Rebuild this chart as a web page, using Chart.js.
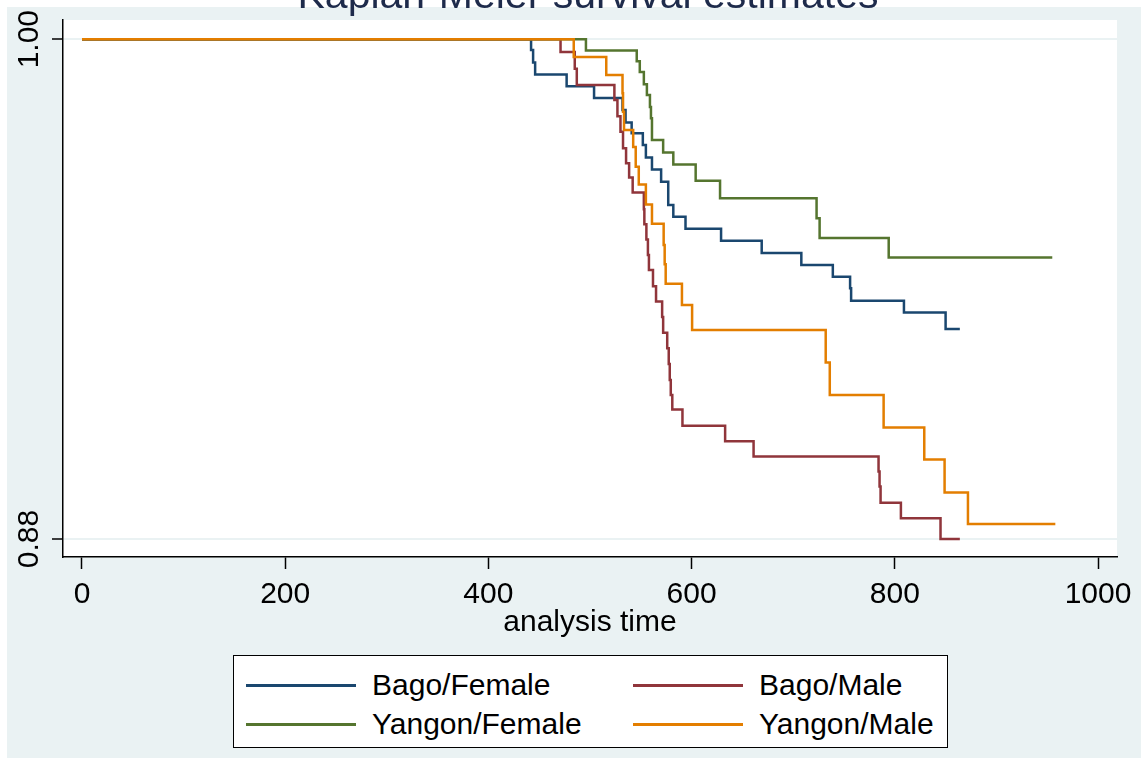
<!DOCTYPE html>
<html>
<head>
<meta charset="utf-8">
<script src="https://cdn.jsdelivr.net/npm/chart.js@4.4.0/dist/chart.umd.min.js"></script>
<style>
  html, body { margin: 0; padding: 0; background: #fff; }
  #wrap { position: relative; width: 1141px; height: 758px; overflow: hidden; }
  #km { position: absolute; left: 0; top: 0; }
  #legend {
    position: absolute; left: 233px; top: 655px; width: 713px; height: 91px;
    border: 1px solid #000; background: #fff;
    font-family: "Liberation Sans", Arial, sans-serif; font-size: 30px; color: #000;
  }
  .item { position: absolute; height: 34px; }
  .swatch { position: absolute; left: 0; top: 16px; width: 110px; height: 3px; }
  .label { position: absolute; left: 126px; top: 0; line-height: 34px; white-space: nowrap; }
</style>
</head>
<body>
<div id="wrap">
  <canvas id="km" width="1141" height="758"></canvas>
  <div id="legend"></div>
</div>
<script>
const FONT = '"Liberation Sans", Arial, sans-serif';
const titleText = 'Kaplan-Meier survival estimates';
const xTitle = 'analysis time';

const xTicks = [0, 200, 400, 600, 800, 1000];
const yTicks = [0.88, 1.00];
const yTickLabels = ['0.88', '1.00'];

// Bago/Female
const bagoF_t = [0, 442, 444, 446, 477, 504, 532, 535, 541, 552, 555, 561, 570, 577, 582, 594, 629, 669, 708, 739, 756, 757, 809, 850, 864];
const bagoF_s = [1, 0.9974, 0.9944, 0.9915, 0.9887, 0.9859, 0.9830, 0.9800, 0.9774, 0.9746, 0.9716, 0.9687, 0.9658, 0.9602, 0.9574, 0.9545, 0.9516, 0.9487, 0.9458, 0.9430, 0.9402, 0.9372, 0.9344, 0.9304, 0.9304];

// Bago/Male
const bagoM_t = [0, 471, 485, 487, 524, 527, 530, 532.5, 535.5, 538.5, 542, 553, 553.5, 555.5, 557, 558, 562, 565, 571, 572, 576, 577.5, 578.5, 579.5, 581, 591, 633, 661, 784, 785, 786, 806, 845, 864];
const bagoM_s = [1, 0.9969, 0.9929, 0.9890, 0.9854, 0.9815, 0.9778, 0.9738, 0.9702, 0.9668, 0.9632, 0.9592, 0.9556, 0.9519, 0.9482, 0.9446, 0.9407, 0.9370, 0.9333, 0.9295, 0.9258, 0.9220, 0.9182, 0.9146, 0.9111, 0.9072, 0.9035, 0.8998, 0.8962, 0.8926, 0.8887, 0.8850, 0.8800, 0.8800];

// Yangon/Female
const yangonF_t = [0, 496, 546, 549, 553, 556, 559, 560, 561, 572, 582, 604, 628, 723, 726, 794, 955];
const yangonF_s = [1, 0.9973, 0.9947, 0.9921, 0.9892, 0.9866, 0.9837, 0.9810, 0.9758, 0.9728, 0.9699, 0.9660, 0.9618, 0.9570, 0.9523, 0.9476, 0.9476];

// Yangon/Male
const yangonM_t = [0, 484, 516, 532, 532.5, 533.5, 542.5, 545, 548, 555, 561, 572.5, 573.5, 574.5, 590.5, 600.5, 732, 736, 789, 829, 849, 872, 958];
const yangonM_s = [1, 0.9957, 0.9914, 0.9870, 0.9826, 0.9782, 0.9741, 0.9694, 0.9651, 0.9603, 0.9557, 0.9506, 0.9460, 0.9413, 0.9362, 0.9302, 0.9224, 0.9146, 0.9068, 0.8991, 0.8912, 0.8836, 0.8836];

const pts = (t, s) => t.map((x, i) => ({ x: x, y: s[i] }));

const series = [
  { label: 'Bago/Female',   color: '#1a476f', data: pts(bagoF_t, bagoF_s),     order: 3 },
  { label: 'Bago/Male',     color: '#90353b', data: pts(bagoM_t, bagoM_s),     order: 2 },
  { label: 'Yangon/Female', color: '#55752f', data: pts(yangonF_t, yangonF_s), order: 1 },
  { label: 'Yangon/Male',   color: '#e37e00', data: pts(yangonM_t, yangonM_s), order: 0 }
];

const decor = {
  id: 'decor',
  beforeDraw(chart) {
    const { ctx, chartArea: a } = chart;
    ctx.save();
    ctx.fillStyle = '#eaf2f3';
    ctx.fillRect(7, 7, chart.width - 7, chart.height - 7);
    ctx.fillStyle = '#fff';
    ctx.fillRect(a.left, a.top, a.right - a.left, a.bottom - a.top);
    ctx.restore();
  },
  afterDraw(chart) {
    const ctx = chart.ctx, ys = chart.scales.y, a = chart.chartArea;
    ctx.save();
    // rotated y tick labels
    ctx.fillStyle = '#000';
    ctx.font = '30px ' + FONT;
    ctx.textAlign = 'center';
    ctx.textBaseline = 'middle';
    yTicks.forEach((v, i) => {
      ctx.save();
      ctx.translate(30, ys.getPixelForValue(v));
      ctx.rotate(-Math.PI / 2);
      ctx.fillText(yTickLabels[i], 0, 0);
      ctx.restore();
    });
    // title, cut off by the top edge
    ctx.fillStyle = '#1e2b4b';
    ctx.font = '41px ' + FONT;
    ctx.textBaseline = 'alphabetic';
    ctx.fillText(titleText, (a.left + a.right) / 2 - 2, 8);
    ctx.restore();
  }
};

new Chart(document.getElementById('km'), {
  type: 'line',
  data: {
    datasets: series.map(s => ({
      label: s.label,
      data: s.data,
      borderColor: s.color,
      backgroundColor: s.color,
      borderWidth: 2.5,
      pointRadius: 0,
      stepped: 'before',
      fill: false,
      order: s.order
    }))
  },
  options: {
    responsive: false,
    animation: false,
    devicePixelRatio: 1,
    layout: { padding: { left: 0, top: 20, right: 24, bottom: 117 } },
    plugins: { legend: { display: false }, tooltip: { enabled: false }, title: { display: false } },
    scales: {
      x: {
        type: 'linear', min: -18.7, max: 1018.7,
        afterBuildTicks: s => { s.ticks = xTicks.map(v => ({ value: v })); },
        afterFit: s => { s.height = 84; },
        ticks: { color: '#000', font: { family: FONT, size: 30 }, padding: 8, maxRotation: 0, autoSkip: false, callback: v => String(v) },
        grid: { drawOnChartArea: false, drawTicks: true, tickLength: 12, tickColor: '#000', tickWidth: 1.5 },
        border: { display: true, color: '#000', width: 1.5 },
        title: { display: true, text: xTitle, color: '#000', font: { family: FONT, size: 30 }, padding: { top: 0, bottom: 0 } }
      },
      y: {
        type: 'linear', min: 0.8757, max: 1.0046,
        afterBuildTicks: s => { s.ticks = yTicks.map(v => ({ value: v })); },
        afterFit: s => { s.width = 63; },
        ticks: { display: false },
        grid: { color: '#eaf2f3', lineWidth: 2, drawTicks: true, tickLength: 11, tickColor: '#000', tickWidth: 1.5 },
        border: { display: true, color: '#000', width: 1.5 }
      }
    }
  },
  plugins: [decor]
});

// legend box, 2 columns
const legend = document.getElementById('legend');
const colX = [12, 399], rowY = [12, 51];
series.forEach((s, i) => {
  const it = document.createElement('div');
  it.className = 'item';
  it.style.left = colX[i % 2] + 'px';
  it.style.top = rowY[Math.floor(i / 2)] + 'px';
  it.innerHTML = '<span class="swatch" style="background:' + s.color + '"></span><span class="label">' + s.label + '</span>';
  legend.appendChild(it);
});
</script>
</body>
</html>
